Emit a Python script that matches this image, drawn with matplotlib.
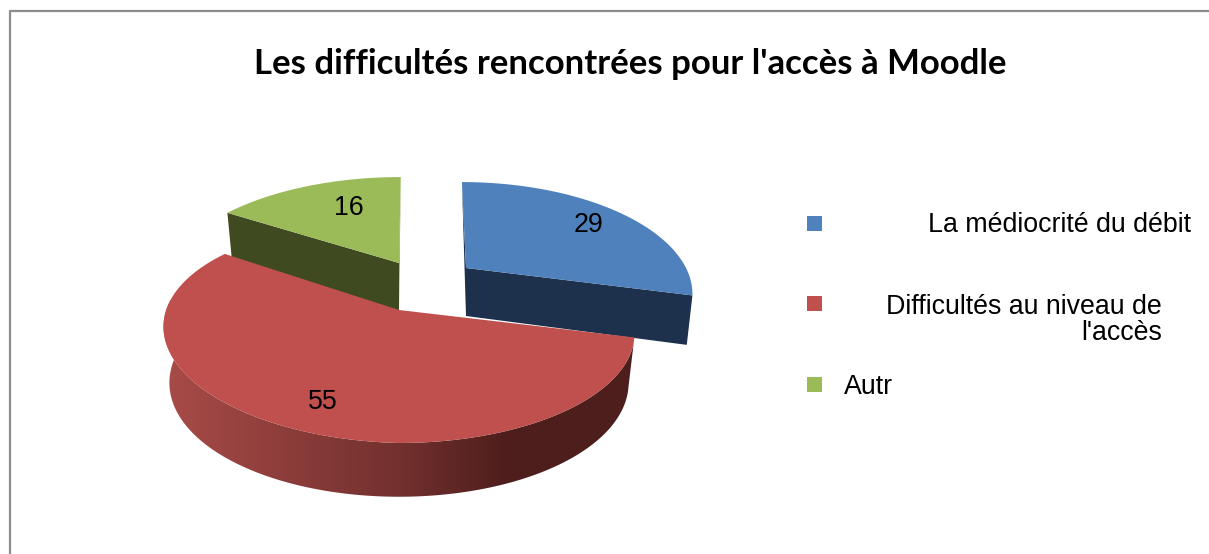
import numpy as np
import matplotlib
matplotlib.use("Agg")
import matplotlib.pyplot as plt
from matplotlib.colors import to_rgb
from matplotlib.patches import Polygon, Rectangle

# chart data
labels = ["La médiocrité du débit", "Difficultés au niveau de\nl'accès", "Autr"]
values = [29, 55, 16]
title = "Les difficultés rencontrées pour l'accès à Moodle"

# look of each slice
top_colors = ["#4f81bd", "#c0504d", "#9bbb59"]
side_colors = ["#1d314d", "#4d1e1c", "#3f4a21"]
apex_x = [466, 399, 399]
apex_y = [268, 310, 263]
radius = [220, 230, 228]
vanish_x = [443, 399, 409]
tilt = [0, 7, 0]
label_pos = [(588.5, 225), (322.5, 402), (348.5, 208)]

# pie projection settings
flat = 104.4
persp = 0.215
depth = 48
shrink = 0.975


def lift(i, u):
    # left side of the big slice sits a little higher on screen
    return tilt[i] * np.minimum(u, 0)


def project(i, theta):
    u = np.sin(np.radians(theta))
    v = np.cos(np.radians(theta))
    s = 1 / (1 + persp * v)
    x = apex_x[i] + radius[i] * u * s + (apex_x[i] - vanish_x[i]) * (s - 1)
    y = apex_y[i] - flat * v * s + lift(i, u)
    return x, y, v


def drop(i, x, y, v, u):
    # same point on the lower face of the slice
    return apex_x[i] + (x - apex_x[i]) * shrink, y - lift(i, u) + depth * (1 - 0.12 * v)


def red_shade(x):
    left = np.array(to_rgb("#a84b48"))
    mid = np.array(to_rgb("#72302e"))
    right = np.array(to_rgb(side_colors[1]))
    if x < 400:
        return left + (mid - left) * max(x - 165, 0) / 235
    return mid + (right - mid) * min((x - 400) / 110, 1)


def draw_slice(ax, i, a0, a1):
    thetas = np.linspace(a0, a1, 200)
    x, y, v = project(i, thetas)
    bx, by = drop(i, x, y, v, np.sin(np.radians(thetas)))
    ax0, ay0 = apex_x[i], apex_y[i]
    bx0, by0 = ax0, ay0 + depth

    if i == 0:
        # front cut face and thin back cut face
        ax.add_patch(Polygon([(x[-1], y[-1]), (ax0, ay0), (bx0, by0), (bx[-1], by[-1])],
                             fc=side_colors[0], ec="none"))
        ax.add_patch(Polygon([(x[0], y[0]), (ax0, ay0), (bx0, by0)],
                             fc=side_colors[0], ec="none"))
    elif i == 2:
        ax.add_patch(Polygon([(x[0], y[0]), (ax0, ay0), (bx0, by0), (bx[0], by[0])],
                             fc=side_colors[2], ec="none"))
        ax.add_patch(Polygon([(x[-1], y[-1]), (ax0, ay0), (bx0, by0)],
                             fc="#6f8a3c", ec="none"))
    else:
        # rounded wall: one gradient image clipped to the wall outline
        keep = thetas <= 275
        wall = Polygon(np.vstack([np.column_stack([x[keep], y[keep]]),
                                  np.column_stack([bx[keep], by[keep]])[::-1]]),
                       fc="none", ec="none")
        ax.add_patch(wall)
        xs = np.arange(150, 650)
        grad = np.array([[red_shade(q) for q in xs]])
        im = ax.imshow(grad, extent=(150, 650, 510, 300), aspect="auto", interpolation="bilinear")
        im.set_clip_path(wall)

    ax.add_patch(Polygon(np.vstack([[ax0, ay0], np.column_stack([x, y])]),
                         fc=top_colors[i], ec="none"))


fig = plt.figure(figsize=(12.09, 5.54), dpi=100)
ax = fig.add_axes([0, 0, 1, 1])

# frame
ax.plot([10, 10, 1209], [554, 11, 11], color="#8c8c8c", lw=1.6)

ax.text(630, 64, title, ha="center", va="center", fontsize=25,
        fontweight="bold", family="Lato", color="black")

# angles from the values, clockwise from the top
ends = np.cumsum(values) / np.sum(values) * 360
starts = np.concatenate([[0], ends[:-1]])
for i in [2, 0, 1]:
    draw_slice(ax, i, starts[i], ends[i])

for i in range(len(values)):
    ax.text(label_pos[i][0], label_pos[i][1], str(values[i]), ha="center", va="center",
            fontsize=19.3, family="Liberation Sans", color="black")

# legend
legend_y = [224, 304, 385]
for i in range(len(labels)):
    ax.add_patch(Rectangle((807, legend_y[i] - 8), 15, 15, fc=top_colors[i], ec="none"))
ax.text(1191, 225.5, labels[0], ha="right", va="center", fontsize=19.3, family="Liberation Sans")
ax.text(1162, 320, labels[1], ha="right", va="center", fontsize=19.3, family="Liberation Sans",
        linespacing=0.98, multialignment="right")
ax.text(844, 387, labels[2], ha="left", va="center", fontsize=19.3, family="Liberation Sans")

ax.set_xlim(0, 1209)
ax.set_ylim(554, 0)
ax.axis("off")

fig.savefig("out.png", dpi=100)
